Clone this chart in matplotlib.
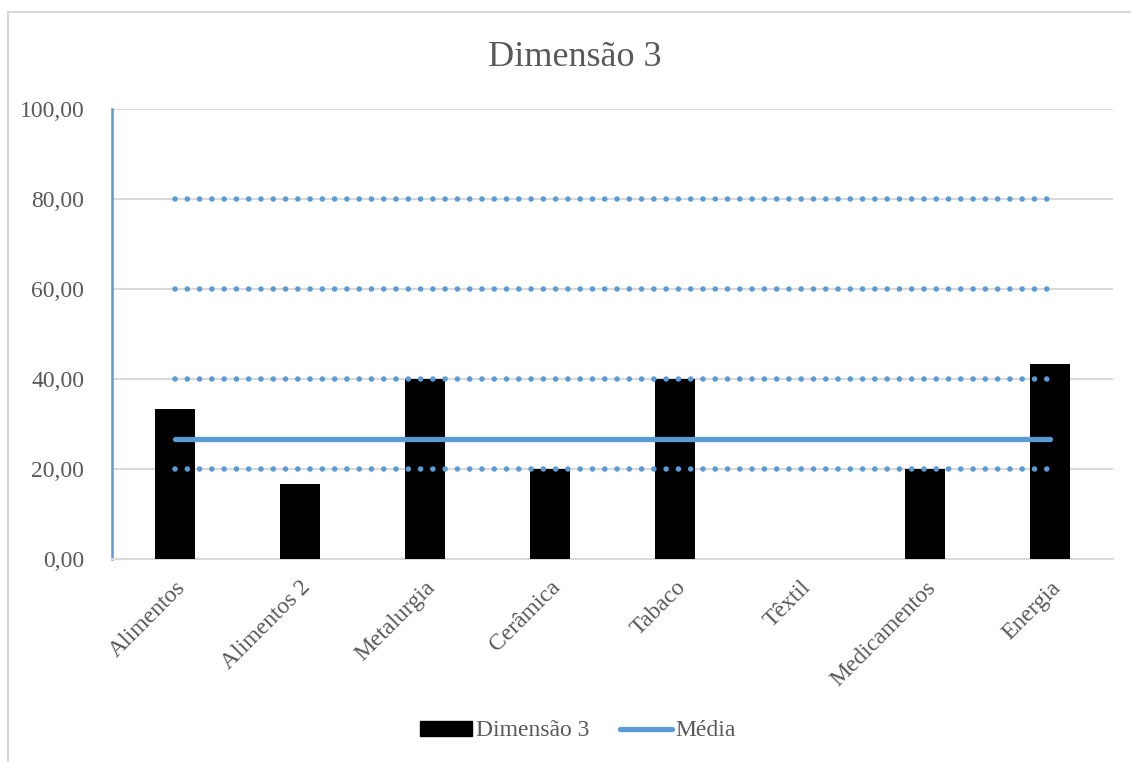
import numpy as np
import matplotlib.pyplot as plt
from matplotlib.patches import Rectangle
from matplotlib.lines import Line2D

plt.rcParams['font.family'] = ['Liberation Serif', 'DejaVu Serif']

# data
setores = ['Alimentos', 'Alimentos 2', 'Metalurgia', 'Cerâmica',
           'Tabaco', 'Têxtil', 'Medicamentos', 'Energia']
dimensao3 = [33.33, 16.67, 40.00, 20.00, 40.00, 0.00, 20.00, 43.33]
faixas = [20, 40, 60, 80]
yticks = [0, 20, 40, 60, 80, 100]

media = np.mean(dimensao3)

TXT = '#595959'
AZUL = '#5B9BD5'
GRADE = '#D9D9D9'

fig = plt.figure(figsize=(11.31, 7.62), dpi=100)
ax = fig.add_axes([112 / 1131, 1 - 559 / 762, (1113 - 112) / 1131, (559 - 109) / 762])

# outer chart frame
fig.patches.append(Rectangle((8 / 1131, -0.1), 1.2, 1 - 12 / 762 + 0.1,
                             transform=fig.transFigure, fill=False,
                             edgecolor=GRADE, linewidth=1.5, zorder=0))

x = np.arange(len(setores))
ax.bar(x, dimensao3, width=0.32, color='black', zorder=3)

for nivel in faixas:
    ax.plot(x, [nivel] * len(x), color=AZUL, linewidth=4.0,
            linestyle=(0, (0.01, 2.2)), dash_capstyle='round', zorder=4)

ax.plot(x, [media] * len(x), color=AZUL, linewidth=3.8,
        solid_capstyle='round', zorder=5)

ax.set_xlim(-0.5, len(setores) - 0.5)
ax.set_ylim(0, 100)
ax.set_yticks(yticks)
ax.set_yticklabels([f'{v:.2f}'.replace('.', ',') for v in yticks],
                   fontsize=17, color=TXT)
ax.yaxis.grid(True, color=GRADE, linewidth=1.5, zorder=0)
ax.set_axisbelow(True)
ax.tick_params(axis='both', length=0)
ax.tick_params(axis='y', pad=20)

ax.set_xticks(x)
ax.set_xticklabels(setores, rotation=45, ha='right', va='top',
                   rotation_mode='anchor', fontsize=17, color=TXT)
ax.tick_params(axis='x', pad=13)

for lado in ['top', 'right']:
    ax.spines[lado].set_visible(False)
ax.spines['left'].set_color(AZUL)
ax.spines['left'].set_linewidth(1.8)
ax.spines['bottom'].set_color(GRADE)
ax.spines['bottom'].set_linewidth(1.5)

fig.text(575 / 1131, 1 - 58 / 762, 'Dimensão 3', ha='center', va='center',
         fontsize=26, color=TXT)

handles = [Rectangle((0, 0), 1, 1, color='black'),
           Line2D([0], [0], color=AZUL, linewidth=3.8, solid_capstyle='round')]
fig.legend(handles, ['Dimensão 3', 'Média'], loc='center',
           bbox_to_anchor=(578 / 1131, 1 - 731 / 762), ncol=2, frameon=False,
           fontsize=17, labelcolor=TXT, handlelength=2.2, handletextpad=0.15,
           columnspacing=1.3, handleheight=0.6)

fig.savefig('out.png', dpi=100, facecolor='white')
